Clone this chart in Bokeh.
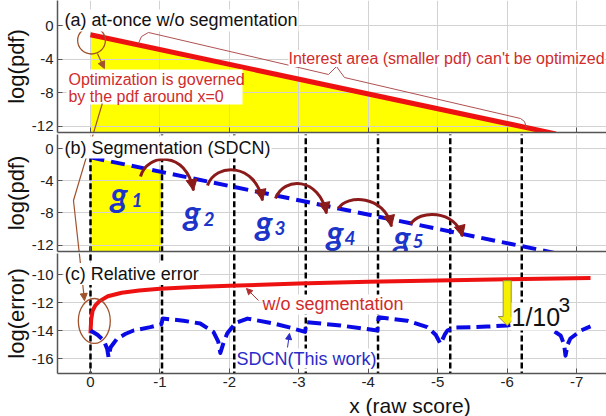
import numpy as np
from bokeh.plotting import figure
from bokeh.layouts import column
from bokeh.models import Range1d, Label, Arrow, NormalHead, FixedTicker
from bokeh.core.properties import value
from bokeh.embed import file_html
from bokeh.resources import INLINE

FONT = "Liberation Sans"
G_FONT = "Lato"

# ---------------- data ----------------
x_ticks = [0, -1, -2, -3, -4, -5, -6, -7]
x_tick_labels = ["0", "-1", "-2", "-3", "-4", "-5", "-6", "-7"]
pdf_ticks = [0, -4, -8, -12]
pdf_tick_labels = ["0", "-4", "-8", "-12"]
err_ticks = [-10, -12, -14, -16]
err_tick_labels = ["-10", "-12", "-14", "-16"]

# (a) log(pdf) handled at once
pdf_a_x = [0.0, -6.7]
pdf_a_y = [-1.1, -12.9]

# (b) the same log(pdf) handled segment by segment (SDCN)
pdf_b_x = [0.0, -6.75]
pdf_b_y = [-1.1, -13.1]

# segment boundaries and segment names
seg_edges = [0.0, -1.03, -2.07, -3.10, -4.14, -5.18, -6.21]
seg_names = ["1", "2", "3", "4", "5"]

# (c) relative error without segmentation
err_wo_x = [0.0, -0.01, -0.03, -0.07, -0.13, -0.25, -0.45, -0.7, -1.0, -1.5,
            -2.0, -3.0, -4.0, -5.0, -6.0, -7.2]
err_wo_y = [-14.2, -13.2, -12.6, -12.2, -11.9, -11.55, -11.3, -11.15, -11.02, -10.9,
            -10.8, -10.65, -10.52, -10.42, -10.34, -10.25]

# (c) relative error of SDCN
err_sdcn_x = [0.0, -0.1, -0.19, -0.24, -0.26, -0.29, -0.38, -0.5, -0.62, -0.86, -1.02,
              -1.04, -1.34, -1.58, -1.77, -1.84, -1.87, -1.92, -1.97, -2.09, -2.26,
              -2.64, -2.88, -3.09,
              -3.11, -3.6, -4.13,
              -4.15, -4.56, -4.85, -4.97, -5.04, -5.1, -5.14, -5.23, -5.71, -6.0,
              -6.19, -6.34, -6.62, -6.77, -6.82, -6.84, -6.87, -6.91, -7.06, -7.2]
err_sdcn_y = [-14.0, -14.3, -14.7, -15.3, -15.9, -15.2, -14.6, -14.25, -14.0, -13.76, -13.55,
              -13.15, -13.3, -13.5, -14.1, -14.8, -15.6, -14.8, -14.2, -13.45, -13.15,
              -13.5, -13.8, -14.1,
              -13.4, -13.64, -14.0,
              -13.05, -13.3, -13.76, -14.3, -14.95, -14.3, -14.0, -13.8, -13.72, -13.64,
              -13.5, -13.5, -13.86, -14.36, -15.0, -15.8, -15.0, -14.57, -14.0, -13.7]

RED = "#ee1111"
BLUE = "#0a0ae6"
BROWN = "#a0522d"
DARKRED = "#8b1a1a"
TXT_RED = "#d02c2c"
TXT_BLUE = "#2b2bc8"
GRID = "#d2d2d2"
AXIS = "#555555"


def interp_desc(xq, xs, ys):
    """np.interp for series whose x decreases."""
    return np.interp(xq, xs[::-1], ys[::-1])


x_range = Range1d(0.475, -7.43)


def make_panel(y_lo, y_hi, frame_h, yticks, ylabels, ylabel, bottom=False):
    p = figure(frame_width=549, frame_height=frame_h, x_range=x_range,
               y_range=Range1d(y_lo, y_hi), output_backend="svg",
               toolbar_location=None, min_border_left=57, min_border_right=0,
               min_border_top=0, min_border_bottom=20 if bottom else 2)
    p.outline_line_color = None
    p.background_fill_color = "white"
    p.border_fill_color = "white"

    p.xaxis.ticker = FixedTicker(ticks=x_ticks)
    p.xaxis.major_label_overrides = {t: s for t, s in zip(x_ticks, x_tick_labels)}
    p.yaxis.ticker = FixedTicker(ticks=yticks)
    p.yaxis.major_label_overrides = {t: s for t, s in zip(yticks, ylabels)}
    for ax in (p.xaxis, p.yaxis):
        ax.axis_line_color = AXIS
        ax.axis_line_width = 1.5
        ax.major_tick_in = 5
        ax.major_tick_out = 0
        ax.major_tick_line_color = AXIS
        ax.minor_tick_line_color = None
        ax.major_label_text_font = FONT
        ax.major_label_text_font_size = "15px"
        ax.major_label_text_color = "#222222"
    p.yaxis.major_label_standoff = 4
    p.yaxis.axis_label = ylabel
    p.yaxis.axis_label_text_font = FONT
    p.yaxis.axis_label_text_font_size = "22px"
    p.yaxis.axis_label_text_font_style = "normal"
    p.yaxis.axis_label_text_color = "#111111"
    p.yaxis.axis_label_standoff = 0
    if bottom:
        p.xaxis.major_label_standoff = 3
    else:
        # shared x axis: only the line and the inner ticks are shown here
        p.xaxis.major_label_text_color = None
        p.xaxis.major_label_text_font_size = "1px"
        p.xaxis.major_label_standoff = 0

    p.xgrid.ticker = FixedTicker(ticks=x_ticks)
    p.ygrid.ticker = FixedTicker(ticks=yticks)
    for g in (p.xgrid, p.ygrid):
        g.grid_line_color = GRID
        g.grid_line_width = 1
    return p


def title(p, x, y, text):
    p.add_layout(Label(x=x, y=y, text=text, text_font=FONT, text_font_size="18px",
                       text_color="#111111", text_baseline="middle",
                       background_fill_color="white", padding=1))


# ---------------- (a) at-once ----------------
pa = make_panel(-12.74, 2.98, 132, pdf_ticks, pdf_tick_labels, "log(pdf)")
fill_a = pa.varea(x=pdf_a_x, y1=[-14, -14], y2=pdf_a_y, fill_color="#ffff00")
fill_a.level = "image"
pa.line(pdf_a_x, pdf_a_y, line_color=RED, line_width=5)

# circle around x=0 and its pointer
pa.ellipse(x=-0.015, y=-1.79, width=0.40, height=3.2, fill_color=None,
           line_color=BROWN, line_width=1.3)
pa.add_layout(Arrow(end=NormalHead(size=7, fill_color=BROWN, line_color=BROWN),
                    x_start=-0.10, y_start=-3.33, x_end=-0.20, y_end=-5.12,
                    line_color=BROWN, line_width=1.2))
pa.quad(left=0.346, right=-2.189, top=-5.24, bottom=-9.40,
        fill_color="white", line_color=None)
pa.text(x=[0.317, 0.317], y=[-6.43, -8.45],
        text=["Optimization is governed", "by the pdf around x=0"],
        text_font=value(FONT), text_font_size="16px", text_color=TXT_RED,
        text_baseline="middle")

# brace over the tail of the pdf
brace_x = [-0.691, -0.734, -0.835, -3.427, -3.542, -3.657, -6.191, -6.249, -6.278]
brace_y = [-2.14, -1.31, -0.83, -5.83, -4.88, -6.19, -11.07, -11.43, -12.14]
pa.line(brace_x, brace_y, line_color="#b05050", line_width=1)
pa.add_layout(Label(x=-2.851, y=-3.93, text="Interest area (smaller pdf) can't be optimized",
                    text_font=FONT, text_font_size="16px", text_color=TXT_RED,
                    text_baseline="middle", background_fill_color="white", padding=0))

# long pointer running down to panel (c)
pointer_x = [-0.17, 0.245, 0.086]
pa.line(pointer_x, [-9.29, -20.83, -32.74], line_color=BROWN, line_width=1.2)
title(pa, 0.39, 0.6, "(a) at-once w/o segmentation")

# ---------------- (b) segmentation ----------------
pb = make_panel(-12.80, 1.74, 117, pdf_ticks, pdf_tick_labels, "log(pdf)")
seg1_x = [seg_edges[0], seg_edges[1]]
fill_b = pb.varea(x=seg1_x, y1=[-14, -14], y2=list(interp_desc(seg1_x, pdf_b_x, pdf_b_y)),
                  fill_color="#ffff00")
fill_b.level = "image"
edge_tops = [pdf_b_y[0]] + [2.5] * (len(seg_edges) - 1)
pb.segment(x0=seg_edges, y0=[-14] * len(seg_edges), x1=seg_edges, y1=edge_tops,
           line_color="black", line_width=2.5, line_dash="6 3")
pb.line(pdf_b_x, pdf_b_y, line_color=BLUE, line_width=4, line_dash="14 7")

# hops from one segment to the next
arc_p0 = [(-0.720, -3.478), (-1.685, -4.596), (-2.664, -6.211), (-3.571, -7.453), (-4.608, -9.441)]
arc_c0 = [(-0.821, -0.497), (-1.800, -1.739), (-2.779, -3.478), (-3.686, -5.714), (-4.723, -7.578)]
arc_c1 = [(-1.382, -0.248), (-2.376, -1.739), (-3.297, -3.478), (-4.233, -5.714), (-5.256, -7.578)]
arc_p1 = [(-1.483, -5.217), (-2.477, -6.460), (-3.398, -8.075), (-4.334, -9.689), (-5.356, -10.932)]
pb.bezier(x0=[a[0] for a in arc_p0], y0=[a[1] for a in arc_p0],
          x1=[a[0] for a in arc_p1], y1=[a[1] for a in arc_p1],
          cx0=[a[0] for a in arc_c0], cy0=[a[1] for a in arc_c0],
          cx1=[a[0] for a in arc_c1], cy1=[a[1] for a in arc_c1],
          line_color=DARKRED, line_width=3)
for c1, p1 in zip(arc_c1, arc_p1):
    sx = p1[0] + 0.25 * (c1[0] - p1[0])
    sy = p1[1] + 0.25 * (c1[1] - p1[1])
    pb.add_layout(Arrow(end=NormalHead(size=11, fill_color=DARKRED, line_color=DARKRED),
                        x_start=sx, y_start=sy, x_end=p1[0], y_end=p1[1],
                        line_alpha=0))

# segment names g1..g5
g_x = [-0.288, -1.339, -2.376, -3.398, -4.363]
g_y = [-5.59, -7.83, -9.07, -10.31, -10.9]
sub_x = [-0.59, -1.627, -2.65, -3.657, -4.636]
sub_y = [-6.46, -8.70, -9.94, -11.18, -11.45]
pb.text(x=g_x, y=g_y, text=["g"] * len(g_x), text_font=value(G_FONT),
        text_font_size="34px", text_font_style="bold italic", text_color="#1c34c8",
        text_baseline="alphabetic")
pb.text(x=sub_x, y=sub_y, text=seg_names, text_font=value(G_FONT),
        text_font_size="19px", text_font_style="bold italic", text_color="#1c34c8",
        text_baseline="alphabetic")
pb.line(pointer_x, [5.59, -6.46, -18.88], line_color=BROWN, line_width=1.2)
title(pb, 0.39, 0.12, "(b) Segmentation (SDCN)")

# ---------------- (c) relative error ----------------
pc = make_panel(-17.07, -8.5, 120, err_ticks, err_tick_labels, "log(error)", bottom=True)
pc.segment(x0=seg_edges, y0=[-18] * len(seg_edges), x1=seg_edges, y1=[-8] * len(seg_edges),
           line_color="black", line_width=2.5, line_dash="6 3")
pc.line(err_wo_x, err_wo_y, line_color=RED, line_width=4, line_join="round")
pc.line(err_sdcn_x, err_sdcn_y, line_color=BLUE, line_width=4, line_dash="14 6",
        line_join="round")

pc.ellipse(x=-0.055, y=-13.32, width=0.46, height=3.21, fill_color=None,
           line_color=BROWN, line_width=1.3)
pc.line(pointer_x, [2.21, -4.71, -11.86], line_color=BROWN, line_width=1.2)
pc.add_layout(Arrow(end=NormalHead(size=7, fill_color=BROWN, line_color=BROWN),
                    x_start=0.102, y_start=-11.14, x_end=0.086, y_end=-11.86,
                    line_alpha=0))

pc.add_layout(Arrow(end=NormalHead(size=6, fill_color="#b03030", line_color="#b03030"),
                    x_start=-2.419, y_start=-11.86, x_end=-2.246, y_end=-11.0,
                    line_color="#b03030", line_width=1))
pc.add_layout(Label(x=-2.477, y=-12.14, text="w/o segmentation", text_font=FONT,
                    text_font_size="18px", text_color=TXT_RED, text_baseline="middle",
                    background_fill_color="white", padding=0))
pc.add_layout(Arrow(end=NormalHead(size=6, fill_color=TXT_BLUE, line_color=TXT_BLUE),
                    x_start=-2.837, y_start=-15.21, x_end=-2.865, y_end=-14.21,
                    line_color=TXT_BLUE, line_width=1))
pc.add_layout(Label(x=-2.102, y=-16.0, text="SDCN(This work)", text_font=FONT,
                    text_font_size="18px", text_color=TXT_BLUE, text_baseline="middle",
                    background_fill_color="white", padding=0))

# yellow arrow: gap between the two errors at x = -6
gap_x = -6.0
gap_top = float(interp_desc(gap_x, err_wo_x, err_wo_y)) - 0.1
gap_tip = float(interp_desc(gap_x, err_sdcn_x, err_sdcn_y))
bw, hw, hl = 0.058, 0.13, 0.64
pc.patch(x=[gap_x + bw, gap_x - bw, gap_x - bw, gap_x - hw, gap_x, gap_x + hw, gap_x + bw],
         y=[gap_top, gap_top, gap_tip + hl, gap_tip + hl, gap_tip, gap_tip + hl, gap_tip + hl],
         fill_color="#f4f000", line_color="#9a9040", line_width=1)
pc.add_layout(Label(x=-6.062, y=-13.0, text="1/10", text_font=FONT, text_font_size="25px",
                    text_color="#111111", text_baseline="alphabetic",
                    background_fill_color="white", padding=0))
pc.add_layout(Label(x=-6.739, y=-12.21, text="3", text_font=FONT, text_font_size="21px",
                    text_color="#111111", text_baseline="alphabetic"))

title(pc, 0.384, -9.96, "(c) Relative error")

# ---------------- x axis title strip ----------------
px = figure(frame_width=549, frame_height=24, x_range=x_range, y_range=Range1d(0, 1),
            output_backend="svg", toolbar_location=None, min_border_left=57,
            min_border_right=0, min_border_top=0, min_border_bottom=0)
px.xaxis.visible = False
px.yaxis.visible = False
px.grid.visible = False
px.outline_line_color = None
px.text(x=[-4.6], y=[0.5], text=["x (raw score)"], text_font=value(FONT),
        text_font_size="21px", text_color="#111111", text_align="center",
        text_baseline="middle")

layout = column(pa, pb, pc, px, spacing=0)
open("out.html", "w").write(file_html(layout, INLINE))
